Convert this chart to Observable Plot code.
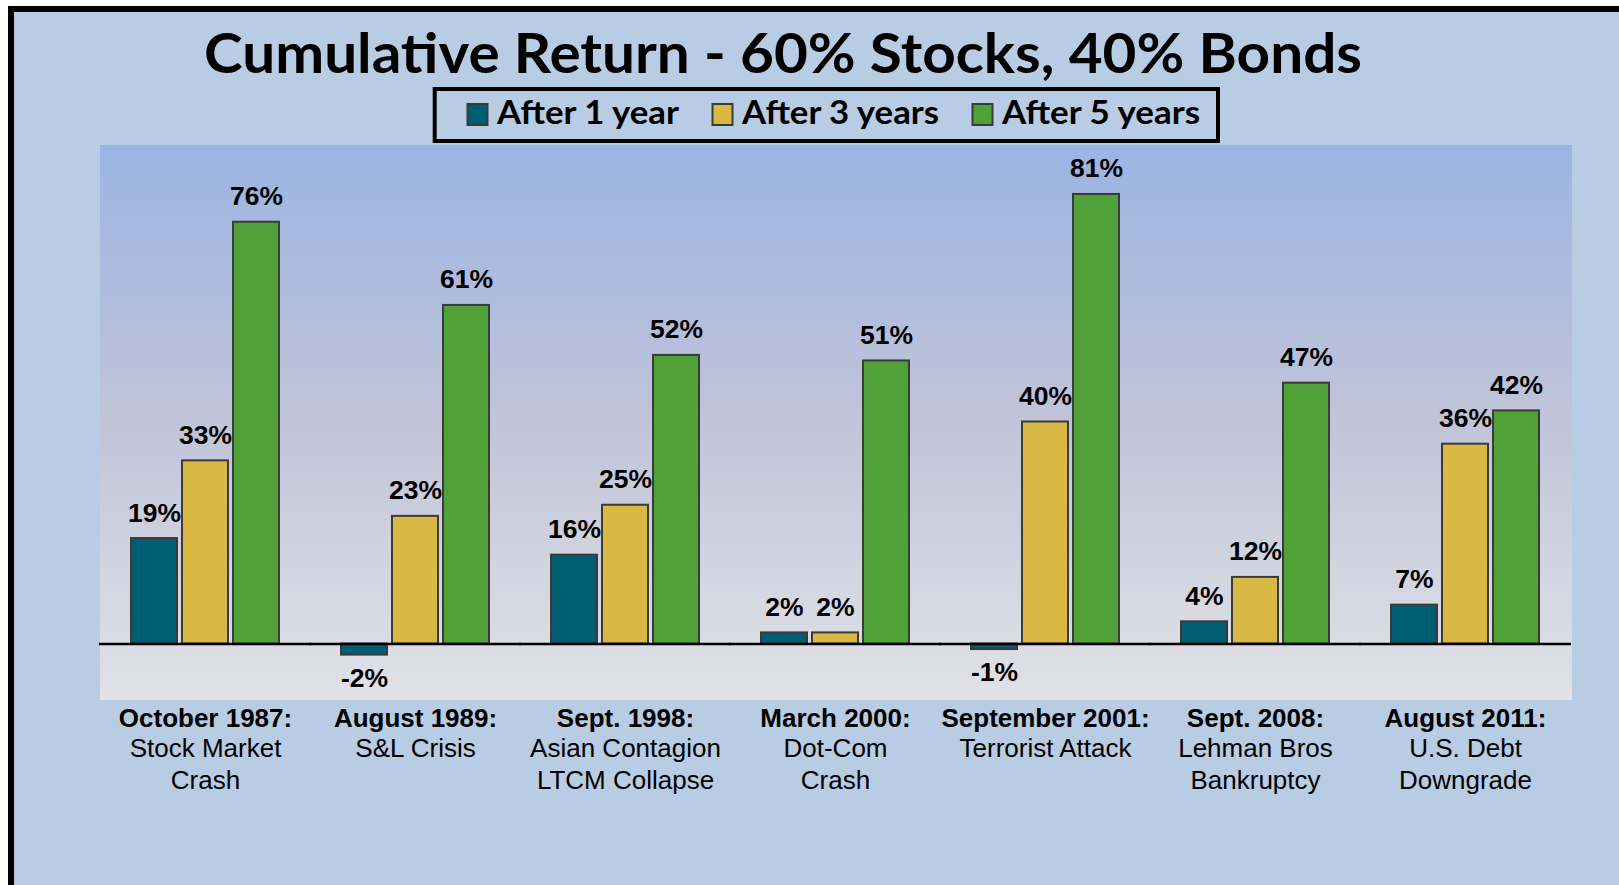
<!DOCTYPE html>
<html>
<head>
<meta charset="utf-8">
<script src="https://cdn.jsdelivr.net/npm/d3@7"></script>
<script src="https://cdn.jsdelivr.net/npm/@observablehq/plot@0.6"></script>
<style>
  html, body { margin: 0; padding: 0; background: #ffffff; }
  #page { position: relative; width: 1619px; height: 885px; overflow: hidden; background: #ffffff; }
  #frame { position: absolute; left: 8px; top: 6px; width: 1700px; height: 1000px;
           border-left: 6px solid #000; border-top: 6px solid #000; background: #b8cce4; }
  #header { position: absolute; left: 0; top: 0; }
  #chart { position: absolute; left: 0; top: 144px; }
</style>
</head>
<body>
<div id="page">
  <div id="frame"></div>
  <svg id="header" width="1619" height="144" xmlns="http://www.w3.org/2000/svg"></svg>
  <div id="chart"></div>
</div>
<script>
// ---- Data ----
const titleText = "Cumulative Return - 60% Stocks, 40% Bonds";
const eventTitles = ["October 1987:", "August 1989:", "Sept. 1998:", "March 2000:", "September 2001:", "Sept. 2008:", "August 2011:"];
const eventDescriptions = ["Stock Market\nCrash", "S&L Crisis", "Asian Contagion\nLTCM Collapse", "Dot-Com\nCrash", "Terrorist Attack", "Lehman Bros\nBankruptcy", "U.S. Debt\nDowngrade"];
const series = ["After 1 year", "After 3 years", "After 5 years"];
const after1 = [19, -2, 16, 2, -1, 4, 7];
const after3 = [33, 23, 25, 2, 40, 12, 36];
const after5 = [76, 61, 52, 51, 81, 47, 42];
const seriesColors = ["#005e73", "#d9b943", "#50a137"];

// ---- Build table ----
const valuesBySeries = [after1, after3, after5];
const data = [];
eventTitles.forEach((ev, i) => {
  series.forEach((s, j) => data.push({event: ev, series: s, value: valuesBySeries[j][i]}));
});
const events = eventTitles.map((t, i) => ({event: t, desc: eventDescriptions[i]}));

// ---- Header (title + legend) ----
const header = d3.select("#header");
header.append("text")
  .attr("x", 783).attr("y", 73)
  .attr("text-anchor", "middle")
  .attr("font-family", "Lato, 'Open Sans', sans-serif")
  .attr("font-weight", "bold")
  .attr("font-size", 55)
  .attr("textLength", 1158)
  .attr("lengthAdjust", "spacingAndGlyphs")
  .attr("fill", "#000")
  .text(titleText);

header.append("rect")
  .attr("x", 434.7).attr("y", 89).attr("width", 783.3).attr("height", 52)
  .attr("fill", "none").attr("stroke", "#000").attr("stroke-width", 4);

const legendSwatchX = [467.5, 712.5, 972.5];
const legendTextX = [497, 742, 1002];
const legendTextW = [182, 197, 198];
series.forEach((s, i) => {
  header.append("rect")
    .attr("x", legendSwatchX[i]).attr("y", 104).attr("width", 20).attr("height", 21)
    .attr("fill", seriesColors[i]).attr("stroke", "#3a3a3a").attr("stroke-width", 2);
  header.append("text")
    .attr("x", legendTextX[i]).attr("y", 123.5)
    .attr("font-family", "Lato, 'Open Sans', sans-serif")
    .attr("font-weight", "bold")
    .attr("font-size", 32.5)
    .attr("textLength", legendTextW[i])
    .attr("lengthAdjust", "spacingAndGlyphs")
    .attr("fill", "#000")
    .text(s);
});

// ---- Chart ----
const chart = Plot.plot({
  width: 1619,
  height: 741,
  marginLeft: 98,
  marginRight: 47.5,
  marginTop: 0,
  marginBottom: 186,
  style: {background: "transparent", fontFamily: "'Liberation Sans', Arial, sans-serif", overflow: "visible"},
  fx: {domain: eventTitles, padding: 0, axis: null, label: null},
  x: {domain: series, paddingInner: 0.104, paddingOuter: 0.602, axis: null, label: null},
  y: {domain: [-10, 90], axis: null, label: null},
  color: {domain: series, range: seriesColors},
  marks: [
    Plot.frame({fill: "url(#plotBg)", stroke: "none", insetLeft: -1, insetRight: -1, shapeRendering: "crispEdges"}),
    Plot.barY(data, {fx: "event", x: "series", y: "value", fill: "series", stroke: "#3a3a3a", strokeWidth: 2}),
    Plot.ruleY([0], {stroke: "#000", strokeWidth: 2.5, insetLeft: -1, insetRight: -1}),
    Plot.text(data.filter(d => d.value >= 0), {
      fx: "event", x: "series", y: "value", text: d => d.value + "%",
      lineAnchor: "bottom", dy: -17, fontSize: 26.5, fontWeight: "bold", fill: "#000"
    }),
    Plot.text(data.filter(d => d.value < 0), {
      fx: "event", x: "series", y: "value", text: d => d.value + "%",
      lineAnchor: "top", dy: 13, fontSize: 26.5, fontWeight: "bold", fill: "#000"
    }),
    Plot.text(events, {
      fx: "event", text: "event", frameAnchor: "bottom",
      lineAnchor: "bottom", dy: 27, fontSize: 26, fontWeight: "bold", fill: "#000"
    }),
    Plot.text(events, {
      fx: "event", text: "desc", frameAnchor: "bottom",
      lineAnchor: "top", dy: 35, lineHeight: 1.22, fontSize: 26, fill: "#000"
    })
  ]
});

// gradient definition for the plot background
const svg = d3.select(chart);
const defs = svg.insert("defs", ":first-child");
const grad = defs.append("linearGradient")
  .attr("id", "plotBg").attr("x1", 0).attr("y1", 0).attr("x2", 0).attr("y2", 1);
grad.append("stop").attr("offset", "0").attr("stop-color", "#9bb4e2");
grad.append("stop").attr("offset", "0.5").attr("stop-color", "#c1c4d8");
grad.append("stop").attr("offset", "1").attr("stop-color", "#e1e2e7");

document.getElementById("chart").appendChild(chart);
</script>
</body>
</html>
